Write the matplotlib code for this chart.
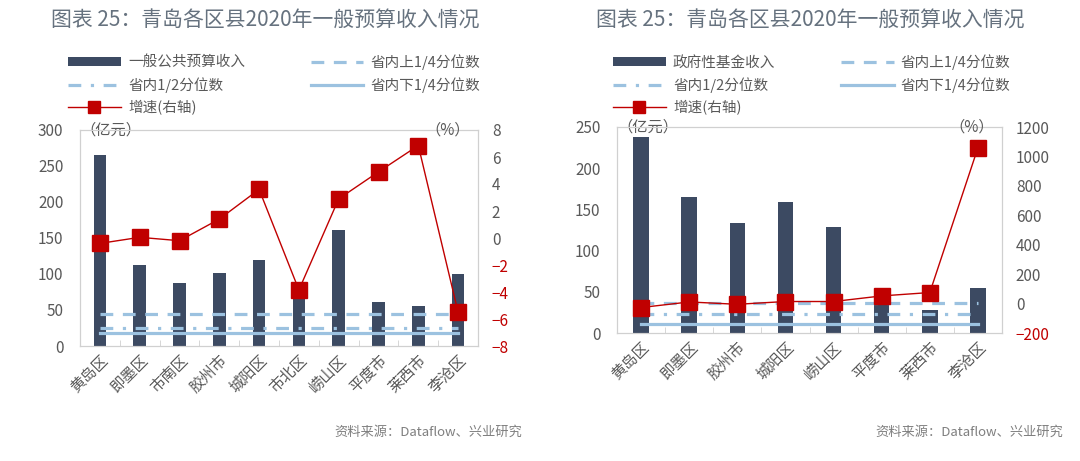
import matplotlib
matplotlib.use("Agg")
import matplotlib.pyplot as plt
from matplotlib.lines import Line2D
from matplotlib.patches import Patch

plt.rcParams["font.family"] = ["Noto Sans CJK SC", "DejaVu Sans"]

# left panel: general public budget revenue
left_districts = ["黄岛区", "即墨区", "市南区", "胶州市", "城阳区", "市北区", "崂山区", "平度市", "莱西市", "李沧区"]
left_revenue = [265, 112, 87, 102, 120, 88, 161, 61, 55, 100]
left_growth = [-0.4, 0.05, -0.2, 1.4, 3.6, -3.85, 2.9, 4.9, 6.85, -5.5]
left_q_upper = 44.5
left_q_mid = 25.5
left_q_lower = 17.5

# right panel: government fund revenue
right_districts = ["黄岛区", "即墨区", "胶州市", "城阳区", "崂山区", "平度市", "莱西市", "李沧区"]
right_revenue = [238, 165, 134, 159, 129, 34, 27.5, 55]
right_growth = [-27, 11, -5, 14, 14, 52, 75, 1059]
right_q_upper = 36
right_q_mid = 23
right_q_lower = 11.5

TITLE = "图表 25：青岛各区县2020年一般预算收入情况"
SOURCE = "资料来源：Dataflow、兴业研究"

BAR_C = "#3c4a62"
Q_C = "#9cc2e0"
RED = "#c00000"
GRAY = "#595959"
SPINE = "#d0d0d0"


def draw_panel(fig, rect, names, revenue, growth, q_upper, q_mid, q_lower,
               bar_label, ylim, yticks, y2lim, y2ticks, title_x, leg_x, src_x):
    ax = fig.add_axes(rect)
    n = len(names)
    x = list(range(n))
    ax.bar(x, revenue, width=0.32, color=BAR_C, zorder=2)
    ax.plot(x, [q_upper] * n, color=Q_C, lw=2.3, ls=(0, (4, 3)), zorder=3)
    ax.plot(x, [q_mid] * n, color=Q_C, lw=2.3, ls=(0, (4, 3, 1, 3)), zorder=3)
    ax.plot(x, [q_lower] * n, color=Q_C, lw=2.3, zorder=3)
    ax.set_xlim(-0.5, n - 0.5)
    ax.set_ylim(*ylim)
    ax.set_yticks(yticks)
    ax.set_xticks(x)
    ax.set_xticklabels(names, rotation=45, ha="right", rotation_mode="anchor",
                       fontsize=11, color=GRAY)
    ax.set_xticks([i + 0.5 for i in range(-1, n)], minor=True)
    ax.tick_params(axis="x", which="major", length=0, pad=4)
    ax.tick_params(axis="x", which="minor", length=4, direction="in", color=SPINE)
    ax.tick_params(axis="y", length=0, labelsize=11, labelcolor=GRAY, pad=12)
    for s in ax.spines.values():
        s.set_color(SPINE)
    ax.text(0.0, 1.0, "（亿元）", transform=ax.transAxes, ha="left", va="center",
            fontsize=11, color=GRAY)

    ax2 = ax.twinx()
    ax2.plot(x, growth, color=RED, lw=1, marker="s", markersize=11,
             markerfacecolor=RED, markeredgecolor=RED, zorder=4)
    ax2.set_ylim(*y2lim)
    ax2.set_yticks(y2ticks)
    ax2.tick_params(axis="y", length=0, labelsize=11, pad=10)
    for t, v in zip(ax2.get_yticklabels(), y2ticks):
        t.set_color(RED if v < 0 else GRAY)
    for s in ax2.spines.values():
        s.set_color(SPINE)
    ax2.text(0.98, 1.0, "（%）", transform=ax2.transAxes, ha="right", va="center",
             fontsize=11, color=GRAY)

    handles = [
        Patch(facecolor=BAR_C),
        Line2D([], [], color=Q_C, lw=2.3, ls=(0, (4, 3, 1, 3))),
        Line2D([], [], color=RED, lw=1, marker="s", markersize=9),
        Line2D([], [], color=Q_C, lw=2.3, ls=(0, (4, 3))),
        Line2D([], [], color=Q_C, lw=2.3),
    ]
    labels = [bar_label, "省内1/2分位数", "增速(右轴)", "省内上1/4分位数", "省内下1/4分位数"]
    fig.legend(handles, labels, loc="upper left", bbox_to_anchor=(leg_x, 0.905),
               ncol=2, frameon=False, fontsize=10.5, labelcolor=GRAY,
               handlelength=3.6, handleheight=0.55, columnspacing=4.5,
               labelspacing=0.5, handletextpad=0.5, borderpad=0.2)

    fig.text(title_x, 0.955, TITLE, ha="center", va="center", fontsize=15,
             color="#66727f")
    fig.text(src_x, 0.062, SOURCE, ha="right", va="center", fontsize=9.5, color="#7f7f7f")
    return ax, ax2


fig = plt.figure(figsize=(10.8, 4.61), dpi=100)

draw_panel(fig, [80 / 1080, 1 - 346 / 461, 398 / 1080, 216 / 461],
           left_districts, left_revenue, left_growth,
           left_q_upper, left_q_mid, left_q_lower, "一般公共预算收入",
           (0, 300), [0, 50, 100, 150, 200, 250, 300],
           (-8, 8), [-8, -6, -4, -2, 0, 2, 4, 6, 8],
           265 / 1080, 58 / 1080, 522 / 1080)

draw_panel(fig, [617 / 1080, 1 - 333 / 461, 385 / 1080, 206 / 461],
           right_districts, right_revenue, right_growth,
           right_q_upper, right_q_mid, right_q_lower, "政府性基金收入",
           (0, 250), [0, 50, 100, 150, 200, 250],
           (-200, 1200), [-200, 0, 200, 400, 600, 800, 1000, 1200],
           810 / 1080, 603 / 1080, 1063 / 1080)

fig.savefig("out.png", dpi=100)
